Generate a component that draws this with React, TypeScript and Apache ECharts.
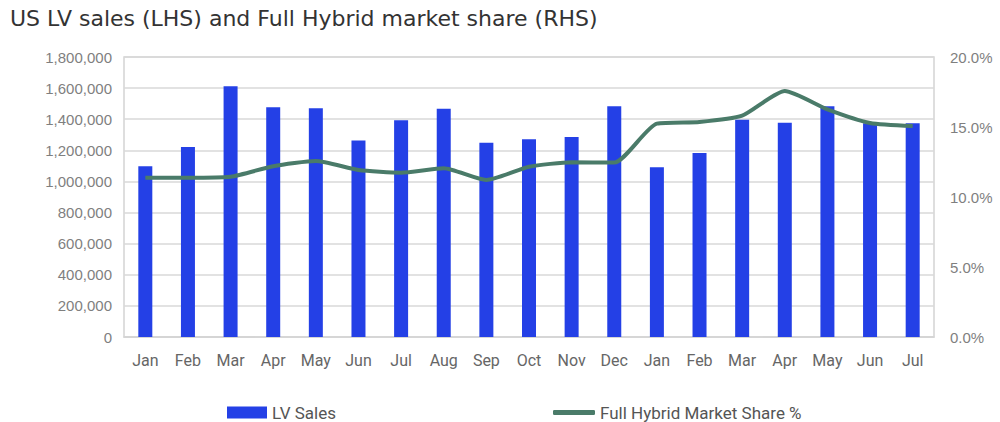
import React, { useEffect, useRef } from "react";
import * as echarts from "echarts";

const categories = ["Jan","Feb","Mar","Apr","May","Jun","Jul","Aug","Sep","Oct","Nov","Dec","Jan","Feb","Mar","Apr","May","Jun","Jul"];
const lvSales = [1097000,1222000,1612000,1477000,1470000,1264000,1393000,1468000,1249000,1271000,1286000,1484000,1091000,1183000,1397000,1378000,1484000,1374000,1374000];
const hybridShare = [11.38,11.38,11.45,12.2,12.57,11.93,11.74,12.05,11.21,12.16,12.48,12.46,15.24,15.36,15.81,17.57,16.26,15.29,15.07];
const leftTicks = { min: 0, max: 1800000, interval: 200000 };
const rightTicks = { min: 0, max: 20, interval: 5 };

export default function App() {
  const ref = useRef<HTMLDivElement>(null);
  useEffect(() => {
    document.body.style.margin = "0";
    const chart = echarts.init(ref.current!, null, { renderer: "svg" });
    const legendText = { fontFamily: "Roboto", fontSize: 17, color: "#555555" };
    chart.setOption({
      animation: false,
      backgroundColor: "#ffffff",
      title: {
        text: "US LV sales (LHS) and Full Hybrid market share (RHS)",
        left: 5,
        top: 2,
        textStyle: { fontFamily: "DejaVu Sans", fontSize: 22, fontWeight: "normal", color: "#333333" },
      },
      grid: { left: 124, right: 66, top: 57, bottom: 85, show: true, borderColor: "#d4d4d4", borderWidth: 1.5 },
      legend: [
        {
          left: 222,
          top: 399,
          itemWidth: 40,
          itemHeight: 12,
          itemGap: 4,
          textStyle: legendText,
          data: [{ name: "LV Sales", icon: "rect" }],
        },
        {
          left: 548,
          top: 399,
          itemWidth: 42,
          itemHeight: 5,
          textStyle: legendText,
          data: [{ name: "Full Hybrid Market Share %", icon: "roundRect" }],
        },
      ],
      xAxis: {
        type: "category",
        data: categories,
        axisLine: { show: true, lineStyle: { color: "#d4d4d4", width: 1.5 } },
        axisTick: { show: false },
        axisLabel: { fontFamily: "Roboto", fontSize: 16, color: "#666666", margin: 15, interval: 0 },
      },
      yAxis: [
        {
          type: "value",
          ...leftTicks,
          axisLine: { show: false },
          axisTick: { show: false },
          splitLine: { lineStyle: { color: "#d9d9d9", width: 1.5 } },
          axisLabel: {
            fontFamily: "Liberation Sans, Arial",
            fontSize: 15,
            color: "#7f7f7f",
            margin: 12,
            formatter: (v: number) => v.toLocaleString("en-US"),
          },
        },
        {
          type: "value",
          ...rightTicks,
          position: "right",
          axisLine: { show: false },
          axisTick: { show: false },
          splitLine: { show: false },
          axisLabel: {
            fontFamily: "Liberation Sans, Arial",
            fontSize: 15,
            color: "#7f7f7f",
            margin: 16,
            formatter: (v: number) => v.toFixed(1) + "%",
          },
        },
      ],
      series: [
        {
          name: "LV Sales",
          type: "bar",
          data: lvSales,
          barWidth: 14,
          itemStyle: { color: "#2440e6" },
          yAxisIndex: 0,
        },
        {
          name: "Full Hybrid Market Share %",
          type: "line",
          data: hybridShare,
          yAxisIndex: 1,
          smooth: 0.2,
          symbol: "none",
          lineStyle: { color: "#4a7b69", width: 4 },
          itemStyle: { color: "#4a7b69" },
        },
      ],
    });
    return () => chart.dispose();
  }, []);
  return <div ref={ref} style={{ width: 1000, height: 422 }} />;
}
